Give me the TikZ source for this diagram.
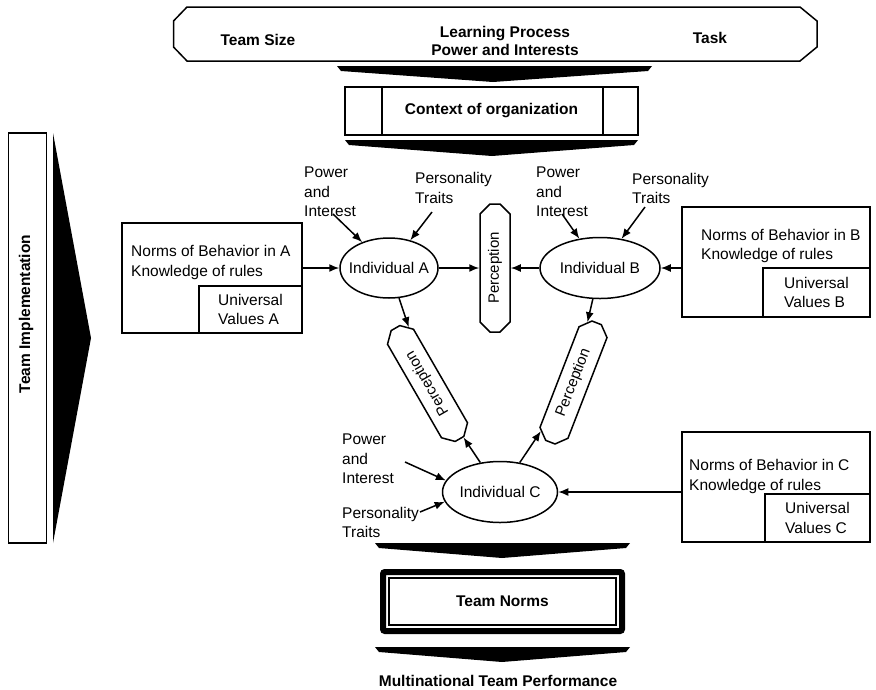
\documentclass[tikz,border=0pt]{standalone}
\usepackage{fontspec}
\setmainfont{Liberation Sans}
\usetikzlibrary{arrows.meta,shapes.geometric,shapes.misc}

\begin{document}
\begin{tikzpicture}[x=1pt,y=-1pt,
	every node/.style={font=\fontsize{15.5}{19.5}\selectfont, inner sep=2pt},
	bold/.style={font=\fontsize{15.5}{18}\selectfont\bfseries},
	framebox/.style={draw, line width=1.5pt},
	indiv/.style={ellipse, draw, line width=1.5pt, inner xsep=-6pt, inner ysep=0pt},
	percep/.style={chamfered rectangle, chamfered rectangle xsep=5pt, chamfered rectangle ysep=5pt, draw, line width=1.5pt, minimum width=128pt, minimum height=30pt, inner sep=1pt, font=\fontsize{15}{18}\selectfont},
	arr/.style={line width=1.5pt, -{Latex[length=10pt,width=8pt]}}]
	\useasboundingbox (0,0) rectangle (876,689);

	\draw[line width=1.5pt] (187,7) -- (800,7) -- (817,21) -- (817,47) -- (800,61) -- (187,61) -- (173.5,47) -- (173.5,21) -- cycle;
	\node[bold] (size) at (258,40) {Team Size};
	\node[bold, align=center] (learn) at (505,41) {Learning Process\\Power and Interests};
	\node[bold] (task) at (710,38) {Task};

	\fill (337,66) -- (652,66) -- (648,71) -- (493,82) -- (341,71) -- cycle;
	\node[framebox, line width=2.2pt, minimum width=293pt, minimum height=48pt, bold] (ctx) at (491.5,111) {Context of organization};
	\foreach \x in {382,603}
		\draw[line width=2pt] (\x,87) -- (\x,135);
	\fill (345,140) -- (638,140) -- (634,145) -- (492,156) -- (349,145) -- cycle;

	\node[framebox, minimum width=38pt, minimum height=410pt] (impl) at (27.5,338) {};
	\node[bold, rotate=90] (impltext) at (26,314) {Team Implementation};
	\fill (53,133) -- (91,338) -- (53,543) -- cycle;

	\node[framebox, minimum width=180pt, minimum height=110pt] (boxA) at (212,278) {};
	\node[anchor=west, align=left] (normsA) at (129,262.5) {Norms of Behavior in A\\Knowledge of rules};
	\node[framebox, minimum width=103pt, minimum height=47pt, align=left] (valA) at (250.5,309.5) {Universal\\Values A};

	\node[framebox, minimum width=188pt, minimum height=110pt] (boxB) at (776,262) {};
	\node[anchor=west, align=left] (normsB) at (699,246) {Norms of Behavior in B\\Knowledge of rules};
	\node[framebox, minimum width=107pt, minimum height=49pt, align=left] (valB) at (816.5,292.5) {Universal\\Values B};

	\node[framebox, minimum width=188pt, minimum height=110pt] (boxC) at (776,487) {};
	\node[anchor=west, align=left] (normsC) at (687,476.5) {Norms of Behavior in C\\Knowledge of rules};
	\node[framebox, minimum width=105pt, minimum height=48pt, align=left] (valC) at (817.5,518) {Universal\\Values C};

	\node[indiv, minimum width=98pt, minimum height=60pt] (indA) at (389,268) {Individual A};
	\node[indiv, minimum width=120pt, minimum height=61pt] (indB) at (600,268) {Individual B};
	\node[indiv, minimum width=115pt, minimum height=61pt] (indC) at (500,492) {Individual C};

	\node[percep, rotate=90] (percT) at (495,268) {Perception};
	\node[percep, rotate=120] (percL) at (427.5,383.5) {Perception};
	\node[percep, rotate=68.8] (percR) at (573.5,382.5) {Perception};

	\node[anchor=west, align=left] (pwrA) at (302,192) {Power\\and\\Interest};
	\node[anchor=west, align=left] (persA) at (413,188) {Personality\\Traits};
	\node[anchor=west, align=left] (pwrB) at (534,192) {Power\\and\\Interest};
	\node[anchor=west, align=left] (persB) at (630,188.5) {Personality\\Traits};
	\node[anchor=west, align=left] (pwrC) at (340,459) {Power\\and\\Interest};
	\node[anchor=west, align=left] (persC) at (340,522.5) {Personality\\Traits};

	\coordinate (pA) at (333,214);
	\coordinate (tA) at (432,212);
	\coordinate (pB) at (562,214);
	\coordinate (tB) at (645,207);
	\coordinate (pC) at (405,462);
	\coordinate (tC) at (420,512);
	\draw[arr] (pA) -- (indA);
	\draw[arr] (tA) -- (indA);
	\draw[arr] (pB) -- (indB);
	\draw[arr] (tB) -- (indB);
	\draw[arr] (pC) -- (indC.168);
	\draw[arr] (tC) -- (indC.190);

	\draw[arr] (boxA.east |- indA) -- (indA);
	\draw[arr] (boxB.west |- indB) -- (indB);
	\draw[arr] (boxC.west |- indC) -- (indC);
	\draw[arr] (indA) -- (percT);
	\draw[arr] (indB) -- (percT);
	\draw[arr] (indA) -- (percL);
	\draw[arr] (indB) -- (percR);
	\draw[arr] (indC) -- (percL);
	\draw[arr] (indC) -- (percR);

	\foreach \y in {543,647}
		\fill (375,\y) -- (630,\y) -- (626,\y+5) -- (502,\y+15) -- (379,\y+5) -- cycle;
	\node[draw, line width=6pt, rounded corners=2pt, minimum width=239pt, minimum height=59pt] (normsout) at (502.5,601.5) {};
	\node[draw, line width=2.5pt, minimum width=227pt, minimum height=47pt, bold] (norms) at (502.5,601.5) {Team Norms};
	\node[bold] (perf) at (498,681) {Multinational Team Performance};
\end{tikzpicture}
\end{document}
